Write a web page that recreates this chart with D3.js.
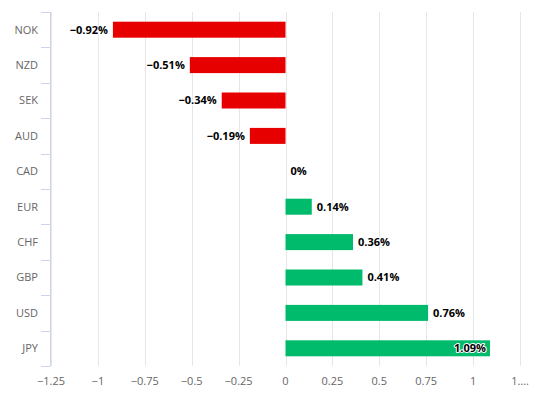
<!DOCTYPE html>
<html>
<head>
<meta charset="utf-8">
<script src="https://cdn.jsdelivr.net/npm/d3@7"></script>
<style>
  body { margin: 0; background: #fff; }
  svg { display: block; font-family: "Open Sans", "DejaVu Sans", sans-serif; }
</style>
</head>
<body>
<svg id="chart" width="536" height="396"></svg>
<script>
const currencies = ["NOK", "NZD", "SEK", "AUD", "CAD", "EUR", "CHF", "GBP", "USD", "JPY"];
const changes = [-0.92, -0.51, -0.34, -0.19, 0, 0.14, 0.36, 0.41, 0.76, 1.09];
const xTicks = [-1.25, -1, -0.75, -0.5, -0.25, 0, 0.25, 0.5, 0.75, 1, 1.25];
const xTickLabels = ["\u22121.25", "\u22121", "\u22120.75", "\u22120.5", "\u22120.25", "0", "0.25", "0.5", "0.75", "1", "1\u2026."];

const data = currencies.map((c, i) => ({ label: c, value: changes[i] }));

const svg = d3.select("#chart");
const margin = { top: 12, right: 16, bottom: 30, left: 51 };
const width = 536 - margin.left - margin.right;
const height = 396 - margin.top - margin.bottom;

const g = svg.append("g")
  .attr("transform", "translate(" + margin.left + "," + margin.top + ")");

const x = d3.scaleLinear().domain([-1.25, 1.25]).range([0, width]);
const y = d3.scaleBand().domain(currencies).range([0, height]).paddingInner(0).paddingOuter(0);

// vertical grid
g.append("g").selectAll("line")
  .data(xTicks)
  .enter().append("line")
    .attr("x1", d => Math.round(x(d)) + 0.5)
    .attr("x2", d => Math.round(x(d)) + 0.5)
    .attr("y1", 0)
    .attr("y2", height)
    .attr("stroke", "#e6e6e6")
    .attr("stroke-width", 1);

// x tick labels
g.append("g").selectAll("text")
  .data(xTicks)
  .enter().append("text")
    .attr("x", d => x(d))
    .attr("y", height + 19)
    .attr("text-anchor", "middle")
    .attr("font-size", "11px")
    .attr("fill", "#666666")
    .text((d, i) => xTickLabels[i]);

// y axis line and ticks
const yAxis = g.append("g");
yAxis.append("line")
  .attr("x1", -0.5).attr("x2", -0.5)
  .attr("y1", 0).attr("y2", height)
  .attr("stroke", "#ccd6eb");
const bounds = currencies.map(c => y(c)).concat([height]);
yAxis.selectAll("line.tick")
  .data(bounds)
  .enter().append("line")
    .attr("class", "tick")
    .attr("x1", -10).attr("x2", -0.5)
    .attr("y1", d => Math.round(d) + 0.5)
    .attr("y2", d => Math.round(d) + 0.5)
    .attr("stroke", "#ccd6eb");
yAxis.selectAll("text")
  .data(currencies)
  .enter().append("text")
    .attr("x", -13)
    .attr("y", d => y(d) + y.bandwidth() / 2)
    .attr("dy", "0.35em")
    .attr("text-anchor", "end")
    .attr("font-size", "11px")
    .attr("fill", "#666666")
    .text(d => d);

// bars
const barH = 16;
g.append("g").selectAll("rect")
  .data(data)
  .enter().append("rect")
    .attr("x", d => x(Math.min(0, d.value)))
    .attr("y", d => y(d.label) + y.bandwidth() / 2 - barH / 2)
    .attr("width", d => Math.abs(x(d.value) - x(0)))
    .attr("height", barH)
    .attr("fill", d => d.value < 0 ? "#e60000" : "#00bb6b");

// data labels
const fmt = v => (v < 0 ? "\u2212" : "") + Math.abs(v).toString() + "%";
g.append("g").selectAll("text")
  .data(data)
  .enter().append("text")
    .attr("x", d => {
      if (d.value < 0) return x(d.value) - 5;
      if (x(d.value) + 45 > width) return x(d.value) - 4;
      return x(d.value) + 5;
    })
    .attr("y", d => y(d.label) + y.bandwidth() / 2)
    .attr("dy", "0.35em")
    .attr("text-anchor", d => (d.value < 0 || x(d.value) + 45 > width) ? "end" : "start")
    .attr("font-size", "11px")
    .attr("font-weight", "bold")
    .attr("fill", "#000")
    .attr("stroke", "#fff")
    .attr("stroke-width", 2)
    .attr("stroke-linejoin", "round")
    .attr("paint-order", "stroke")
    .text(d => fmt(d.value));
</script>
</body>
</html>
